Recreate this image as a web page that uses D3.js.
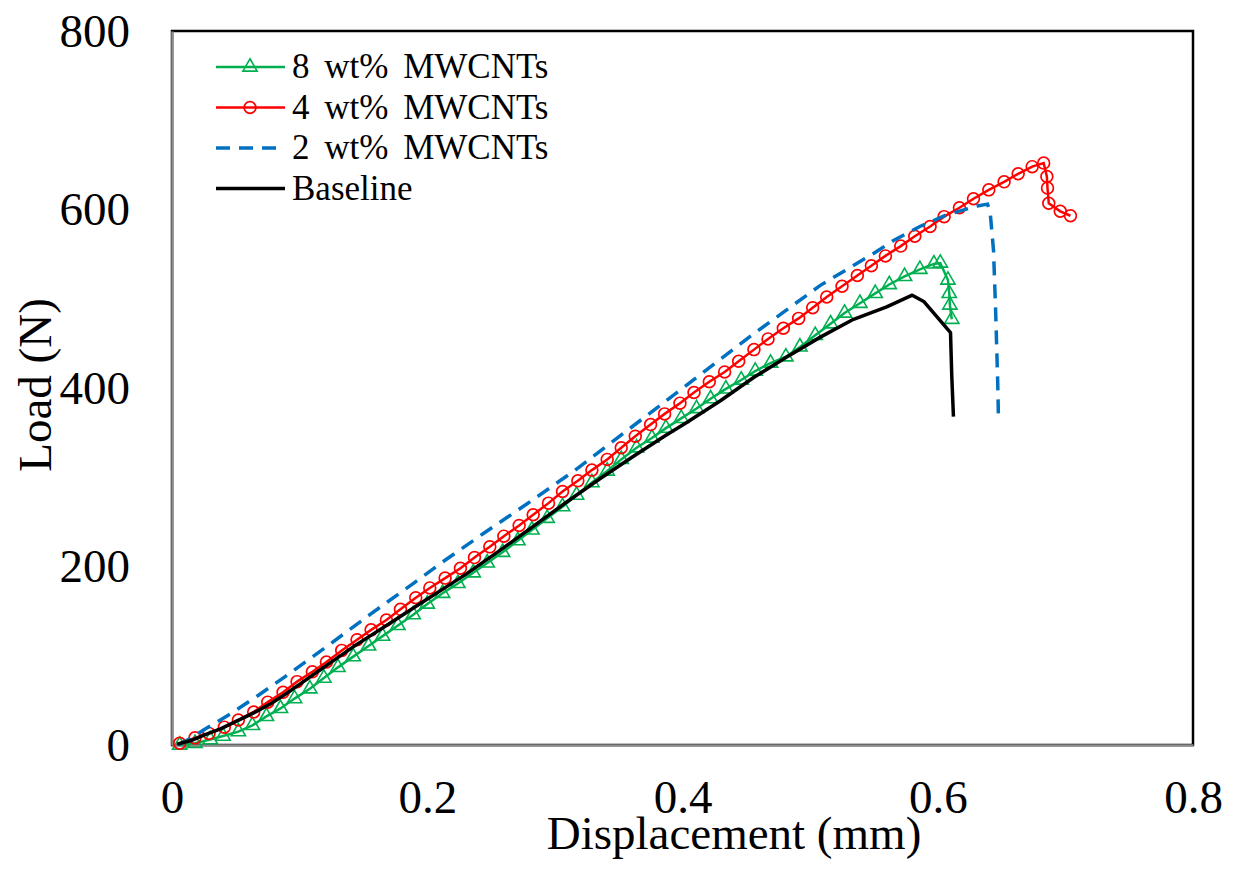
<!DOCTYPE html>
<html>
<head>
<meta charset="utf-8">
<script src="https://cdn.jsdelivr.net/npm/d3@7"></script>
<style>
  body { margin: 0; background: #fff; }
  text { font-family: "Liberation Serif", "Times New Roman", serif; fill: #000; }
</style>
</head>
<body>
<svg id="chart" width="1233" height="876"></svg>
<script>
// load-displacement curves, values

var seriesNames = ['8 wt% MWCNTs', '4 wt% MWCNTs', '2 wt% MWCNTs', 'Baseline'];

var xTicks = [0, 0.2, 0.4, 0.6, 0.8];
var yTicks = [0, 200, 400, 600, 800];

// 8 wt% MWCNTs (green, triangles)
var disp8 = [0.006, 0.018, 0.030, 0.040, 0.052, 0.063, 0.074, 0.085, 0.096, 0.108,
             0.119, 0.130, 0.142, 0.154, 0.165, 0.177, 0.189, 0.200, 0.212, 0.224,
             0.236, 0.247, 0.259, 0.271, 0.282, 0.294, 0.306, 0.317, 0.329, 0.341,
             0.352, 0.364, 0.376, 0.387, 0.399, 0.411, 0.422, 0.434, 0.446, 0.457,
             0.469, 0.481, 0.492, 0.504, 0.516, 0.527, 0.539, 0.551, 0.562, 0.574,
             0.586, 0.597, 0.602, 0.608, 0.609, 0.6095, 0.611];
var load8 = [0, 2, 6, 10, 15, 22, 32, 41, 52, 63,
             75, 87, 99, 111, 122, 134, 146, 158, 170, 181,
             193, 204, 216, 229, 241, 254, 267, 280, 294, 307,
             320, 333, 344, 355, 366, 377, 388, 399, 409, 419,
             428, 435, 446, 459, 472, 484, 495, 506, 516, 525,
             533, 539, 540, 521, 506, 493, 477];

// 4 wt% MWCNTs (red, circles)
var disp4 = [0.006, 0.018, 0.029, 0.041, 0.052, 0.064, 0.075, 0.087, 0.098, 0.110,
             0.121, 0.133, 0.145, 0.156, 0.168, 0.179, 0.191, 0.202, 0.214, 0.226,
             0.237, 0.249, 0.260, 0.272, 0.283, 0.295, 0.306, 0.318, 0.329, 0.341,
             0.352, 0.363, 0.375, 0.386, 0.398, 0.409, 0.421, 0.433, 0.444, 0.456,
             0.467, 0.479, 0.491, 0.502, 0.513, 0.525, 0.537, 0.548, 0.559, 0.571,
             0.582, 0.594, 0.605, 0.617, 0.628, 0.640, 0.652, 0.663, 0.674, 0.683,
             0.6855, 0.686, 0.687, 0.696, 0.704];
var load4 = [2, 8, 13, 20, 28, 37, 48, 59, 71, 82,
             93, 106, 118, 129, 140, 152, 165, 176, 187, 198,
             210, 222, 234, 246, 258, 271, 284, 296, 308, 320,
             333, 346, 359, 371, 383, 395, 407, 418, 430, 443,
             455, 467, 478, 490, 502, 514, 526, 537, 548, 559,
             570, 581, 592, 602, 612, 622, 631, 640, 648, 652,
             637, 624, 607, 598, 593];

// 2 wt% MWCNTs (blue, dashed)
var disp2 = [0.005, 0.015, 0.025, 0.047, 0.068, 0.087, 0.119, 0.155, 0.190, 0.210,
             0.244, 0.278, 0.314, 0.349, 0.403, 0.456, 0.508, 0.550, 0.565, 0.586,
             0.607, 0.631, 0.639, 0.641, 0.6437, 0.6455, 0.647, 0.6476];
var load2 = [0, 8, 17, 36, 56, 75, 108, 146, 182, 203,
             237, 270, 306, 344, 403, 461, 515, 551, 565, 581,
             594, 604, 606, 598, 554, 480, 405, 364];

// Baseline (black)
var dispB = [0.004, 0.015, 0.025, 0.038, 0.051, 0.064, 0.077, 0.090, 0.103, 0.116,
             0.129, 0.142, 0.155, 0.168, 0.181, 0.194, 0.205, 0.218, 0.231, 0.257,
             0.283, 0.309, 0.335, 0.361, 0.387, 0.403, 0.430, 0.456, 0.482, 0.508,
             0.534, 0.560, 0.580, 0.589, 0.610, 0.611, 0.6123];
var loadB = [1, 5, 11, 18, 27, 36, 46, 58, 71, 84,
             97, 110, 122, 134, 146, 158, 168, 180, 192, 218,
             245, 272, 298, 323, 347, 361, 386, 412, 435, 457,
             477, 491, 504, 497, 462, 413, 368];

var colors = { g: '#00B050', r: '#FF0000', b: '#0070C0', k: '#000000' };

var svg = d3.select('#chart');

var plotLeft = 172, plotRight = 1193, plotTop = 31, plotBottom = 745;

var x = d3.scaleLinear().domain([0, 0.8]).range([plotLeft, plotRight]);
var y = d3.scaleLinear().domain([0, 800]).range([plotBottom, plotTop]);

function zip(xs, ys) { return xs.map(function(d, i) { return [d, ys[i]] }) }

var line = d3.line()
    .x(function(d) { return x(d[0]) })
    .y(function(d) { return y(d[1]) });

// plot area border
svg.append('rect')
    .attr('x', plotLeft).attr('y', plotTop)
    .attr('width', plotRight - plotLeft).attr('height', plotBottom - plotTop)
    .attr('fill', 'none')
    .attr('stroke', '#000')
    .attr('stroke-width', 2.5);

// axes (no tick marks, only labels)
svg.append('g')
    .attr('transform', 'translate(0,' + plotBottom + ')')
    .call(d3.axisBottom(x).tickValues(xTicks).tickSize(0).tickPadding(35)
        .tickFormat(function(d) { return d === 0 ? '0' : d3.format('.1f')(d) }));

svg.append('g')
    .attr('transform', 'translate(' + plotLeft + ',0)')
    .call(d3.axisLeft(y).tickValues(yTicks).tickSize(0).tickPadding(42).tickFormat(d3.format('d')));

svg.selectAll('.domain')
    .attr('stroke', '#8c8c8c')
    .attr('stroke-width', 2.5);

svg.selectAll('.tick text')
    .attr('font-family', '"Liberation Serif", "Times New Roman", serif')
    .attr('font-size', 47)
    .attr('fill', '#000');

// axis titles
svg.append('text')
    .attr('x', 734)
    .attr('y', 849)
    .attr('text-anchor', 'middle')
    .attr('font-size', 47)
    .text('Displacement (mm)');

svg.append('text')
    .attr('transform', 'translate(51,385) rotate(-90)')
    .attr('text-anchor', 'middle')
    .attr('font-size', 47)
    .text('Load (N)');

// series, drawn bottom to top
var g8 = zip(disp8, load8), g4 = zip(disp4, load4), g2 = zip(disp2, load2), gB = zip(dispB, loadB);

var triangle = d3.symbol().type(d3.symbolTriangle).size(88);

svg.append('path').datum(g8)
    .attr('d', line)
    .attr('fill', 'none').attr('stroke', colors.g).attr('stroke-width', 2.5);

svg.append('g').selectAll('path').data(g8).enter().append('path')
    .attr('d', triangle)
    .attr('transform', function(d) { return 'translate(' + x(d[0]) + ',' + y(d[1]) + ')' })
    .attr('fill', 'none').attr('stroke', colors.g).attr('stroke-width', 1.6);

svg.append('path').datum(g4)
    .attr('d', line)
    .attr('fill', 'none').attr('stroke', colors.r).attr('stroke-width', 2.5);

svg.append('g').selectAll('circle').data(g4).enter().append('circle')
    .attr('cx', function(d) { return x(d[0]) })
    .attr('cy', function(d) { return y(d[1]) })
    .attr('r', 5.9)
    .attr('fill', 'none').attr('stroke', colors.r).attr('stroke-width', 1.7);

svg.append('path').datum(g2)
    .attr('d', line)
    .attr('fill', 'none').attr('stroke', colors.b).attr('stroke-width', 3.5)
    .attr('stroke-dasharray', '14,9');

svg.append('path').datum(gB)
    .attr('d', line)
    .attr('fill', 'none').attr('stroke', colors.k).attr('stroke-width', 3.5)
    .attr('stroke-linejoin', 'round');

// legend
var legendRows = [
    { name: seriesNames[0], color: colors.g, mark: 'tri', dash: null, w: 2.5 },
    { name: seriesNames[1], color: colors.r, mark: 'circ', dash: null, w: 2.5 },
    { name: seriesNames[2], color: colors.b, mark: null, dash: '14,9', w: 3.5 },
    { name: seriesNames[3], color: colors.k, mark: null, dash: null, w: 3.5 }
];

var legend = svg.append('g').selectAll('g').data(legendRows).enter().append('g')
    .attr('transform', function(d, i) { return 'translate(216,' + (67 + i * 40.5) + ')' });

legend.append('line')
    .attr('x1', 0).attr('x2', 69)
    .attr('stroke', function(d) { return d.color })
    .attr('stroke-width', function(d) { return d.w })
    .attr('stroke-dasharray', function(d) { return d.dash });

legend.filter(function(d) { return d.mark === 'tri' }).append('path')
    .attr('d', triangle)
    .attr('transform', 'translate(34,0)')
    .attr('fill', 'none').attr('stroke', colors.g).attr('stroke-width', 1.6);

legend.filter(function(d) { return d.mark === 'circ' }).append('circle')
    .attr('cx', 34).attr('r', 5.9)
    .attr('fill', 'none').attr('stroke', colors.r).attr('stroke-width', 1.7);

legend.append('text')
    .attr('x', 76).attr('y', 11)
    .attr('font-size', 35)
    .attr('word-spacing', 6)
    .text(function(d) { return d.name });
</script>
</body>
</html>
